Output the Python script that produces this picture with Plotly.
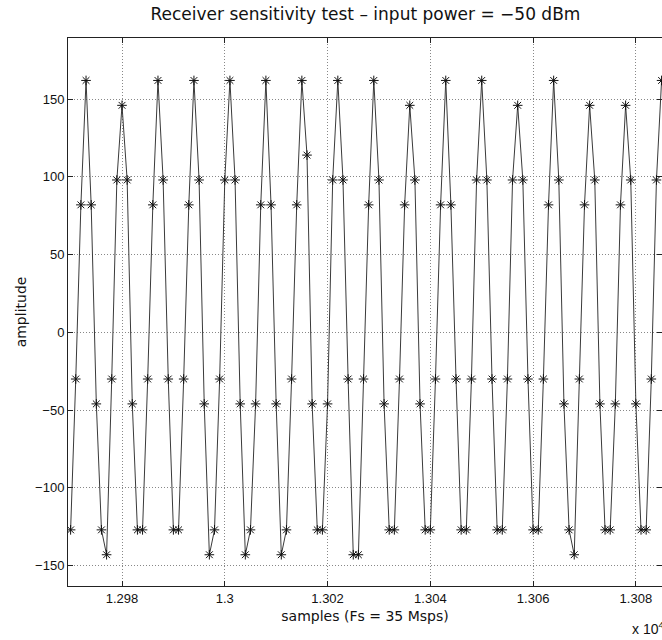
import plotly.graph_objects as go

# Sample indices (absolute sample number)
start_sample = 12970
amplitude = [
    -127, -30, 82, 162, 82, -46, -127, -143, -30, 98,
    146, 98, -46, -127, -127, -30, 82, 162, 98, -30,
    -127, -127, -30, 82, 162, 98, -46, -143, -127, -30,
    98, 162, 98, -46, -143, -127, -46, 82, 162, 82,
    -46, -143, -127, -30, 82, 162, 114, -46, -127, -127,
    -46, 98, 162, 98, -30, -143, -143, -30, 82, 162,
    98, -46, -127, -127, -30, 82, 146, 98, -46, -127,
    -127, -30, 82, 162, 82, -30, -127, -127, -30, 98,
    162, 98, -30, -127, -127, -30, 98, 146, 98, -30,
    -127, -127, -30, 82, 162, 98, -46, -127, -143, -30,
    82, 146, 98, -46, -127, -127, -46, 82, 146, 98,
    -46, -127, -127, -30, 98, 162,
]
samples = list(range(start_sample, start_sample + len(amplitude)))

x_tick_vals = [12980, 13000, 13020, 13040, 13060, 13080]
x_tick_text = ["1.298", "1.3", "1.302", "1.304", "1.306", "1.308"]
y_tick_vals = [-150, -100, -50, 0, 50, 100, 150]
y_tick_text = ["\u2212150", "\u2212100", "\u221250", "0", "50", "100", "150"]

FONT = "Liberation Sans, Arial, sans-serif"
FONT_WIDE = "DejaVu Sans, sans-serif"

fig = go.Figure()
fig.add_trace(go.Scatter(
    x=samples, y=amplitude, mode="lines+markers",
    line=dict(color="#3a3a3a", width=1),
    marker=dict(symbol="asterisk-open", size=8, color="#111111",
                line=dict(color="#111111", width=1)),
    showlegend=False, cliponaxis=True,
))

axis_common = dict(
    showline=True, linecolor="#222222", linewidth=1, mirror="ticks",
    ticks="inside", ticklen=5, tickcolor="#222222",
    showgrid=True, gridcolor="#888888", griddash="1px,2px", gridwidth=1,
    zeroline=False, automargin=False,
    tickfont=dict(family=FONT, size=13, color="#111111"),
)

fig.update_xaxes(
    range=[12969.49, 13085.08], tickmode="array", tickvals=x_tick_vals,
    ticktext=x_tick_text,
    title=dict(text="samples (Fs = 35 Msps)", standoff=6,
               font=dict(family=FONT_WIDE, size=14, color="#111111")),
    **axis_common,
)
fig.update_yaxes(
    range=[-163.1, 189.3], tickmode="array", tickvals=y_tick_vals,
    ticktext=y_tick_text,
    title=dict(text="amplitude", standoff=5,
               font=dict(family=FONT_WIDE, size=14, color="#111111")),
    **axis_common,
)

fig.add_annotation(
    text="x 10<sup>4</sup>", xref="paper", yref="paper", x=0.946, y=-0.0766,
    xanchor="left", yanchor="middle", showarrow=False,
    font=dict(family=FONT, size=14, color="#111111"),
)

fig.update_layout(
    width=662, height=640,
    margin=dict(l=68, r=0, t=38, b=54),
    paper_bgcolor="white", plot_bgcolor="white",
    title=dict(text="Receiver sensitivity test \u2013 input power = \u221250 dBm",
               x=0.552, xanchor="center", y=1 - 14 / 640, yanchor="middle",
               xref="container", yref="container",
               font=dict(family=FONT_WIDE, size=17, color="#111111")),
)

fig.write_html(
    "out.html",
    config={"displayModeBar": False},
    post_script="document.body.style.margin='0';document.body.style.overflow='hidden';",
)
